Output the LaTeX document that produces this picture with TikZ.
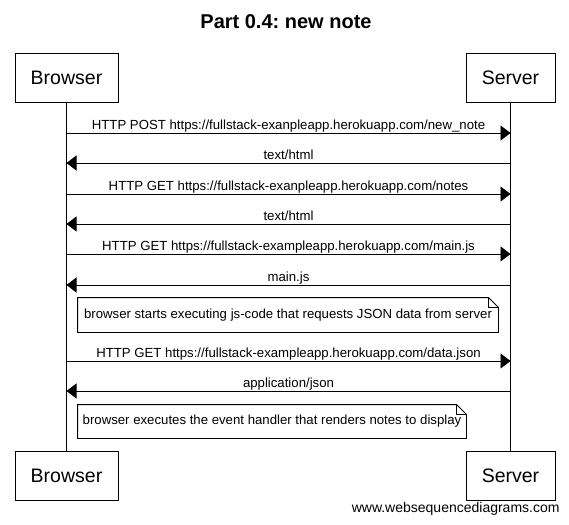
\documentclass[tikz,border=0pt]{standalone}
\usepackage{fontspec}
\setmainfont{Liberation Sans}
\frenchspacing
\usetikzlibrary{arrows.meta}

\begin{document}
\begin{tikzpicture}[x=1pt, y=-1pt, line width=0.9pt,
  actor/.style = {shape=rectangle, draw, minimum height=49pt,
    font=\fontsize{19.5}{22}\selectfont},
  msg/.style = {-{Triangle[length=10pt,width=15pt]}},
  lbl/.style = {anchor=base, yshift=4pt, inner sep=0pt,
    font=\fontsize{13.2}{15}\selectfont},
  notebox/.style = {shape=rectangle, minimum height=34pt,
    font=\fontsize{13.2}{15}\selectfont}]
  \useasboundingbox (0,0) rectangle (569,524);
  \node[font=\bfseries\fontsize{20}{24}\selectfont] (title) at (286,22) {Part 0.4: new note};
  \node[actor, minimum width=103pt] (browser) at (66.5,77.5) {Browser};
  \node[actor, minimum width=89pt] (server) at (510.5,77.5) {Server};
  \node[actor, minimum width=103pt] (browserend) at (66.5,476) {Browser};
  \node[actor, minimum width=89pt] (serverend) at (510.5,476) {Server};
  \draw (browser) -- (browserend);
  \draw (server) -- (serverend);
  \foreach \y/\from/\to/\txt [count=\i] in {
      133/b/s/{HTTP POST https://fullstack-exanpleapp.herokuapp.com/new\_note},
      163/s/b/{text/html},
      194/b/s/{HTTP GET https://fullstack-exanpleapp.herokuapp.com/notes},
      224/s/b/{text/html},
      254/b/s/{HTTP GET https://fullstack-exampleapp.herokuapp.com/main.js},
      285/s/b/{main.js},
      361/b/s/{HTTP GET https://fullstack-exampleapp.herokuapp.com/data.json},
      391/s/b/{application/json}} {
    \coordinate (b\i) at (66.5,\y);
    \coordinate (s\i) at (510.5,\y);
    \draw[msg] (\from\i) -- node[lbl] {\txt} (\to\i);
  }
  \node[notebox, minimum width=420pt] (note1) at (288,315) {browser starts executing js-code that requests JSON data from server};
  \node[notebox, minimum width=388pt, minimum height=33pt] (note2) at (272,421.5) {browser executes the event handler that renders notes to display};
  \foreach \n in {note1, note2} {
    \draw (\n.north west) -- ([xshift=-10pt]\n.north east) -- ([yshift=-10pt]\n.north east)
      -- (\n.south east) -- (\n.south west) -- cycle;
    \draw ([xshift=-10pt]\n.north east) |- ([yshift=-10pt]\n.north east);
  }
  \node[anchor=east, inner sep=0pt, font=\fontsize{14}{16}\selectfont] (credit) at (560,509) {www.websequencediagrams.com};
\end{tikzpicture}
\end{document}
